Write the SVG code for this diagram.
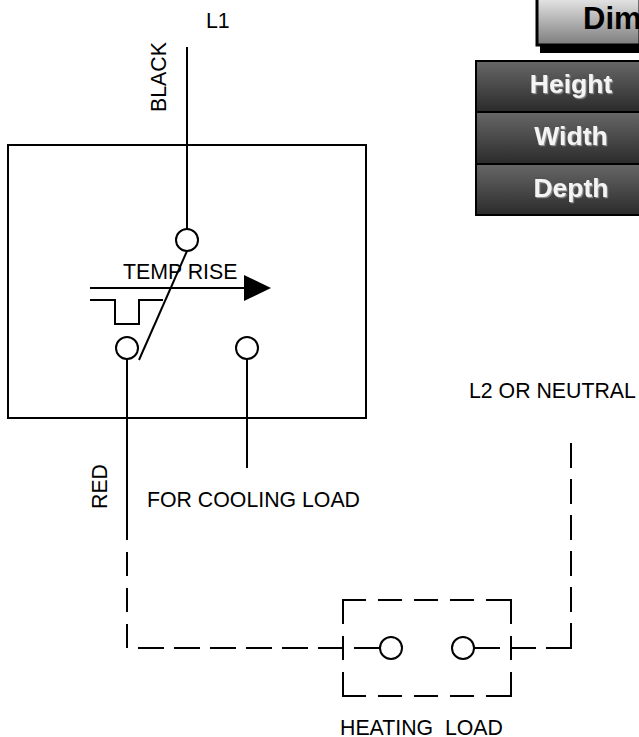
<svg xmlns="http://www.w3.org/2000/svg" width="639" height="737" viewBox="0 0 639 737">
<defs>
<linearGradient id="g1" x1="0" y1="0" x2="0" y2="1"><stop offset="0" stop-color="#e8e8e8"/><stop offset="1" stop-color="#7c7c7c"/></linearGradient>
<linearGradient id="g2" x1="0" y1="0" x2="0" y2="1"><stop offset="0" stop-color="#666"/><stop offset="1" stop-color="#2c2c2c"/></linearGradient>
<filter id="s" x="-10%" y="-20%" width="120%" height="140%"><feDropShadow dx="1.200" dy="1.200" stdDeviation="0.400" flood-color="#999" flood-opacity="0.900"/></filter>
</defs>
<style>
.w{fill:none;stroke:#000;stroke-width:2}
.t{font-family:"Liberation Sans",Arial,sans-serif;font-size:21.300px;fill:#000}
.h{font-family:"Liberation Sans",Arial,sans-serif;font-size:26.500px;font-weight:700;text-anchor:middle;fill:#f4f4f4;filter:url(#s)}
.c{fill:#fff;stroke:#000;stroke-width:2}
</style>
<rect width="639" height="737" fill="#fff"/>
<g id="table">
<rect x="540" y="0" width="99" height="53" fill="#000"/>
<rect x="537" y="-3" width="103" height="48" fill="url(#g1)" stroke="#000" stroke-width="3"/>
<text x="583" y="29" font-family="Liberation Sans" font-size="31" font-weight="700" fill="#000">Dim</text>
<rect x="475" y="60" width="165" height="156" fill="#000"/>
<rect x="477" y="62" width="163" height="49" fill="url(#g2)"/>
<rect x="477" y="113" width="163" height="50" fill="url(#g2)"/>
<rect x="477" y="165" width="163" height="49" fill="url(#g2)"/>
<text class="h" x="571" y="93">Height</text>
<text class="h" x="571" y="145">Width</text>
<text class="h" x="571" y="197">Depth</text>
</g>
<g id="connectors">
<path class="w" d="M187 47V229"/>
<path class="w" d="M8 145H366V418H8Z"/>
<path class="w" d="M187 251L139 360"/>
<path class="w" d="M90 288H246"/>
<path class="w" d="M90 300H115V324H139V300H163"/>
<path class="w" d="M127 358V540M127 552V576M127 588V612M127 624V648"/>
<path class="w" d="M247 358V468"/>
<path class="w" d="M138 648H164M174 648H200M210 648H236M246 648H272M282 648H308M318 648H343M354 648H380"/>
<path class="w" d="M343 624V600H366M378 600H402M414 600H438M450 600H474M486 600H511V624M343 636V660M511 636V660M343 672V696H366M378 696H402M414 696H438M450 696H474M486 696H511V672"/>
<path class="w" d="M474 648H500M511 648H536M546 648H571V623M571 612V587M571 576V551M571 540V515M571 504V479M571 468V443"/>
<polygon points="244,275 271,288 244,301" fill="#000"/>
</g>
<g id="contact-top"><circle class="c" cx="187" cy="240" r="11"/></g>
<g id="contact-left"><circle class="c" cx="127" cy="348" r="11"/></g>
<g id="contact-right"><circle class="c" cx="247" cy="348" r="11"/></g>
<g id="load-left"><circle class="c" cx="391" cy="648" r="11"/></g>
<g id="load-right"><circle class="c" cx="463" cy="648" r="11"/></g>
<g id="labels">
<text class="t" x="206" y="28">L1</text>
<text class="t" transform="translate(166,112) rotate(-90)">BLACK</text>
<text class="t" x="123" y="279">TEMP RISE</text>
<text class="t" x="469" y="398">L2 OR NEUTRAL</text>
<text class="t" transform="translate(107,509) rotate(-90)">RED</text>
<text class="t" x="147" y="507">FOR COOLING LOAD</text>
<text class="t" x="340" y="735" xml:space="preserve">HEATING  LOAD</text>
</g>
</svg>
